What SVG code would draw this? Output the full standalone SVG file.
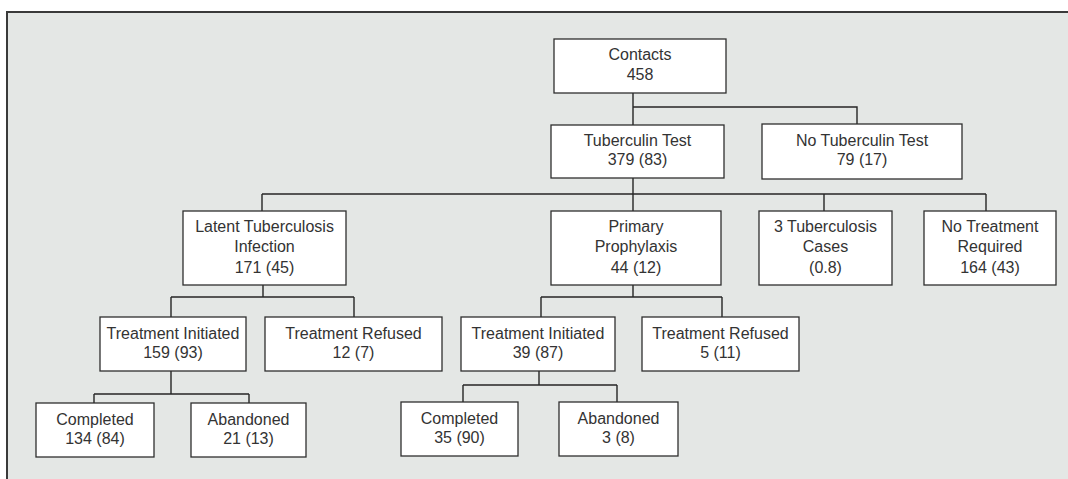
<svg xmlns="http://www.w3.org/2000/svg" width="1068" height="479" viewBox="0 0 1068 479">
<style>
.bg{fill:#e4e7e5}
.frame{fill:none;stroke:#3a3a3a;stroke-width:2}
.box{fill:#ffffff;stroke:#2e2e2e;stroke-width:1.3}
.ln{fill:none;stroke:#262626;stroke-width:1.4}
text{font-family:"Liberation Sans",Arial,sans-serif;font-size:16px;fill:#333333;text-anchor:middle}
</style>
<rect x="0" y="0" width="1068" height="479" fill="#ffffff"/>
<rect class="bg" x="7" y="12" width="1061" height="467"/>
<path class="frame" d="M7,479 V12 H1068"/>
<g id="connectors">
<path class="ln" d="M633,93 V125 M633,107 H857 V124"/>
<path class="ln" d="M633,178 V194 M262,194 H986 M262,194 V211 M633,194 V211 M824,194 V211 M986,194 V211"/>
<path class="ln" d="M263,285 V297 M171,297 H354 M171,297 V317 M354,297 V317"/>
<path class="ln" d="M633,285 V297 M541,297 H722 M541,297 V317 M722,297 V317"/>
<path class="ln" d="M171,371 V394 M94,394 H249 M94,394 V403 M249,394 V403"/>
<path class="ln" d="M539,371 V385 M463,385 H617 M463,385 V402 M617,385 V402"/>
</g>
<g id="contacts"><rect class="box" x="554" y="39" width="172" height="54"/><text x="640" y="60">Contacts</text><text x="640" y="80">458</text></g>
<g id="tuberculin-test"><rect class="box" x="551" y="125" width="173" height="53"/><text x="637.5" y="146">Tuberculin Test</text><text x="637.5" y="165">379 (83)</text></g>
<g id="no-tuberculin-test"><rect class="box" x="762" y="124" width="200" height="55"/><text x="862" y="146">No Tuberculin Test</text><text x="862" y="165">79 (17)</text></g>
<g id="latent"><rect class="box" x="183" y="211" width="163" height="74"/><text x="264.5" y="232">Latent Tuberculosis</text><text x="264.5" y="252">Infection</text><text x="264.5" y="273">171 (45)</text></g>
<g id="primary-prophylaxis"><rect class="box" x="551" y="211" width="170" height="74"/><text x="636" y="232">Primary</text><text x="636" y="252">Prophylaxis</text><text x="636" y="273">44 (12)</text></g>
<g id="tb-cases"><rect class="box" x="759" y="211" width="133" height="74"/><text x="825.5" y="232">3 Tuberculosis</text><text x="825.5" y="252">Cases</text><text x="825.5" y="273">(0.8)</text></g>
<g id="no-treatment"><rect class="box" x="924" y="211" width="132" height="74"/><text x="990" y="232">No Treatment</text><text x="990" y="252">Required</text><text x="990" y="273">164 (43)</text></g>
<g id="ti-left"><rect class="box" x="100" y="317" width="146" height="54"/><text x="173" y="339">Treatment Initiated</text><text x="173" y="358">159 (93)</text></g>
<g id="tr-left"><rect class="box" x="265" y="317" width="177" height="54"/><text x="353.5" y="339">Treatment Refused</text><text x="353.5" y="358">12 (7)</text></g>
<g id="ti-right"><rect class="box" x="461" y="317" width="154" height="54"/><text x="538" y="339">Treatment Initiated</text><text x="538" y="358">39 (87)</text></g>
<g id="tr-right"><rect class="box" x="642" y="317" width="157" height="54"/><text x="720.5" y="339">Treatment Refused</text><text x="720.5" y="358">5 (11)</text></g>
<g id="completed-left"><rect class="box" x="36" y="403" width="118" height="54"/><text x="95" y="425">Completed</text><text x="95" y="444">134 (84)</text></g>
<g id="abandoned-left"><rect class="box" x="191" y="403" width="115" height="54"/><text x="248.5" y="425">Abandoned</text><text x="248.5" y="444">21 (13)</text></g>
<g id="completed-right"><rect class="box" x="401" y="402" width="117" height="54"/><text x="459.5" y="424">Completed</text><text x="459.5" y="443">35 (90)</text></g>
<g id="abandoned-right"><rect class="box" x="559" y="402" width="119" height="54"/><text x="618.5" y="424">Abandoned</text><text x="618.5" y="443">3 (8)</text></g>
</svg>
